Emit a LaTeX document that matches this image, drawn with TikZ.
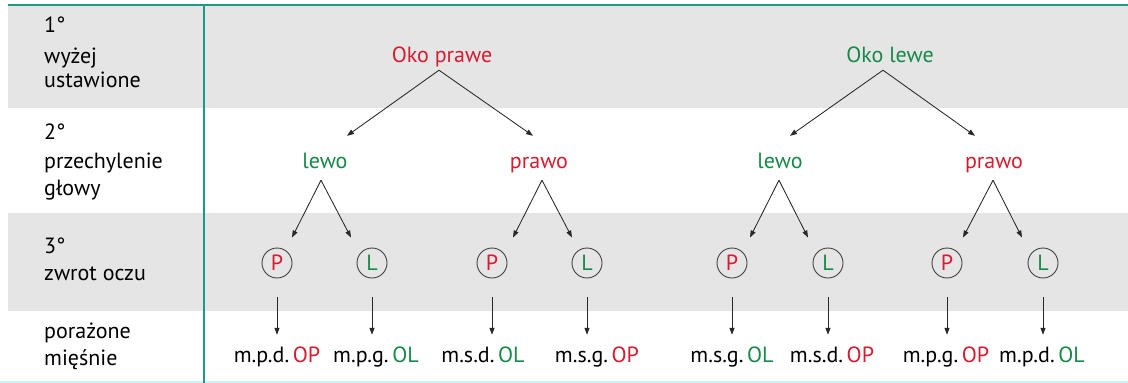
\documentclass[tikz,border=0pt]{standalone}
\usepackage{fontspec}
\setmainfont{PT Sans}
\usetikzlibrary{arrows.meta,calc}
\definecolor{myred}{RGB}{214,28,48}
\definecolor{mygreen}{RGB}{22,138,72}
\definecolor{teal2}{RGB}{32,152,136}
\definecolor{band}{RGB}{229,229,229}
\definecolor{cyanline}{RGB}{200,245,248}
\definecolor{arrcol}{RGB}{40,40,40}
\begin{document}
\begin{tikzpicture}[x=1pt,y=-1pt,
  txt/.style={inner sep=2pt,anchor=base,text height=15pt,text depth=5pt,font=\fontsize{22}{26}\selectfont},
  lbl/.style={inner sep=0pt,anchor=base west,font=\fontsize{22}{26}\selectfont},
  eye/.style={circle,draw=black!75,line width=0.9pt,minimum size=30pt,inner sep=0pt,font=\fontsize{22}{26}\selectfont},
  arr/.style={draw=arrcol,line width=0.85pt,-{Triangle[length=7pt,width=5pt]}}]
\useasboundingbox (0,0) rectangle (1128,383);
% background bands
\fill[white] (0,0) rectangle (1128,383);
\fill[band] (8,6) rectangle (1128,108);
\fill[band] (8,213) rectangle (1128,311);
\draw[cyanline,line width=2pt] (0,381.5) -- (1128,381.5);
\draw[teal2,line width=2.5pt] (8,5) -- (1128,5);
\draw[teal2,line width=2.5pt] (204,4) -- (204,383);
% left column
\node[lbl] (l1a) at (44,32) {1°};
\node[lbl] (l1b) at (44,63) {wyżej};
\node[lbl] (l1c) at (44,87) {ustawione};
\node[lbl] (l2a) at (44,139) {2°};
\node[lbl] (l2b) at (44,168) {przechylenie};
\node[lbl] (l2c) at (44,195) {głowy};
\node[lbl] (l3a) at (44,253) {3°};
\node[lbl] (l3b) at (44,280) {zwrot oczu};
\node[lbl] (l4a) at (44,338) {porażone};
\node[lbl] (l4b) at (44,365) {mięśnie};
% level 1
\node[txt,text=myred] (okoP) at (442,62) {Oko prawe};
\node[txt,text=mygreen] (okoL) at (890,62) {Oko lewe};
% level 2
\node[txt,text=mygreen] (lewo1) at (325,168) {lewo};
\node[txt,text=myred] (prawo1) at (539,168) {prawo};
\node[txt,text=mygreen] (lewo2) at (780,168) {lewo};
\node[txt,text=myred] (prawo2) at (994,168) {prawo};
% level 3
\node[eye,text=myred] (P1) at (277,263) {P};
\node[eye,text=mygreen] (L1) at (372,263) {L};
\node[eye,text=myred] (P2) at (492,263) {P};
\node[eye,text=mygreen] (L2) at (587,263) {L};
\node[eye,text=myred] (P3) at (732,263) {P};
\node[eye,text=mygreen] (L3) at (828,263) {L};
\node[eye,text=myred] (P4) at (947,263) {P};
\node[eye,text=mygreen] (L4) at (1043,263) {L};
% level 4
\node[txt] (m1) at (277,362) {m.p.d.\,\textcolor{myred}{OP}};
\node[txt] (m2) at (376,362) {m.p.g.\,\textcolor{mygreen}{OL}};
\node[txt] (m3) at (483,362) {m.s.d.\,\textcolor{mygreen}{OL}};
\node[txt] (m4) at (597,362) {m.s.g.\,\textcolor{myred}{OP}};
\node[txt] (m5) at (732,362) {m.s.g.\,\textcolor{mygreen}{OL}};
\node[txt] (m6) at (832,362) {m.s.d.\,\textcolor{myred}{OP}};
\node[txt] (m7) at (946,362) {m.p.g.\,\textcolor{myred}{OP}};
\node[txt] (m8) at (1042,362) {m.p.d.\,\textcolor{mygreen}{OL}};
% arrows level 1 -> 2
\draw[arr] ($(okoP.south)+(-3,1)$) -- ($(lewo1.north)+(22,-15)$);
\draw[arr] ($(okoP.south)+(-3,1)$) -- ($(prawo1.north)+(-6,-15)$);
\draw[arr] ($(okoL.south)+(-7,1)$) -- ($(lewo2.north)+(10,-15)$);
\draw[arr] ($(okoL.south)+(-7,1)$) -- ($(prawo2.north)+(-19,-15)$);
% arrows level 2 -> 3
\draw[arr] ($(lewo1.south)+(-4,5)$) -- ($(P1.north)+(15,-10)$);
\draw[arr] ($(lewo1.south)+(-4,5)$) -- ($(L1.north)+(-21,-10)$);
\draw[arr] ($(prawo1.south)+(3,5)$) -- ($(P2.north)+(21,-10)$);
\draw[arr] ($(prawo1.south)+(3,5)$) -- ($(L2.north)+(-15,-10)$);
\draw[arr] ($(lewo2.south)+(-1,5)$) -- ($(P3.north)+(18,-10)$);
\draw[arr] ($(lewo2.south)+(-1,5)$) -- ($(L3.north)+(-20,-10)$);
\draw[arr] ($(prawo2.south)+(-1,5)$) -- ($(P4.north)+(16,-10)$);
\draw[arr] ($(prawo2.south)+(-1,5)$) -- ($(L4.north)+(-21,-10)$);
% arrows level 3 -> 4
\foreach \e/\m in {P1/m1,L1/m2,P2/m3,L2/m4,P3/m5,L3/m6,P4/m7,L4/m8}{
  \draw[arr] ($(\e.south)+(0,19)$) -- ($(\e.south |- \m.north)+(0,-10)$);
}
\end{tikzpicture}
\end{document}
